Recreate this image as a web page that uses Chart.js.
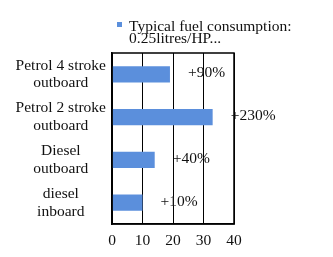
<!DOCTYPE html>
<html>
<head>
<meta charset="utf-8">
<script src="https://cdn.jsdelivr.net/npm/chart.js@4"></script>
<style>
  html, body { margin: 0; padding: 0; background: #fff; }
  #wrap { width: 333px; height: 257px; }
</style>
</head>
<body>
<div id="wrap"><canvas id="chartContainer" width="333" height="257"></canvas></div>
<script>
var categories = [
  ['Petrol 4 stroke', 'outboard'],
  ['Petrol 2 stroke', 'outboard'],
  ['Diesel', 'outboard'],
  ['diesel', 'inboard']
];
var consumption = [19, 33, 14, 10];
var increaseLabels = ['+90%', '+230%', '+40%', '+10%'];
var seriesName = ['Typical fuel consumption:', '0.25litres/HP...'];
var xTicks = [0, 10, 20, 30, 40];

var serif = "'Liberation Serif', 'Times New Roman', serif";

// box round the plot, value labels and the two-line legend
var extras = {
  id: 'extras',
  afterDatasetsDraw: function (chart) {
    var ctx = chart.ctx;
    var a = chart.chartArea;
    ctx.save();
    ctx.strokeStyle = '#000';
    ctx.lineWidth = 1.5;
    ctx.strokeRect(a.left, a.top, a.right - a.left, a.bottom - a.top);

    ctx.fillStyle = '#111';
    ctx.font = '15.5px ' + serif;
    ctx.textAlign = 'left';
    ctx.textBaseline = 'middle';
    var meta = chart.getDatasetMeta(0);
    meta.data.forEach(function (bar, i) {
      ctx.fillText(increaseLabels[i], bar.x + 18, bar.y - 1);
    });

    ctx.fillStyle = '#5b8fdc';
    ctx.fillRect(117, 22, 5, 5);
    ctx.fillStyle = '#111';
    ctx.textBaseline = 'alphabetic';
    ctx.fillText(seriesName[0], 129, 31);
    ctx.fillText(seriesName[1], 129, 43);
    ctx.restore();
  }
};

var ctx = document.getElementById('chartContainer').getContext('2d');
new Chart(ctx, {
  type: 'bar',
  data: {
    labels: categories,
    datasets: [{
      label: seriesName.join(' '),
      data: consumption,
      backgroundColor: '#5b8fdc',
      borderWidth: 0,
      barPercentage: 0.38,
      categoryPercentage: 1
    }]
  },
  options: {
    indexAxis: 'y',
    responsive: false,
    animation: false,
    layout: { padding: { left: 0, right: 99, top: 53, bottom: 0 } },
    plugins: {
      legend: { display: false },
      tooltip: { enabled: false }
    },
    scales: {
      x: {
        min: 0,
        max: 40,
        afterBuildTicks: function (scale) {
          scale.ticks = xTicks.map(function (v) { return { value: v }; });
        },
        afterFit: function (scale) { scale.height = 33; },
        grid: { color: '#000', lineWidth: 1, drawTicks: false },
        border: { color: '#000', width: 1.5 },
        ticks: { color: '#111', padding: 8, font: { family: serif, size: 15.5 } }
      },
      y: {
        afterFit: function (scale) { scale.width = 112; },
        grid: { display: false, drawTicks: false },
        border: { color: '#000', width: 1.5 },
        ticks: {
          color: '#111',
          padding: 6,
          crossAlign: 'center',
          font: { family: serif, size: 15.5, lineHeight: 1.15 }
        }
      }
    }
  },
  plugins: [extras]
});
</script>
</body>
</html>
